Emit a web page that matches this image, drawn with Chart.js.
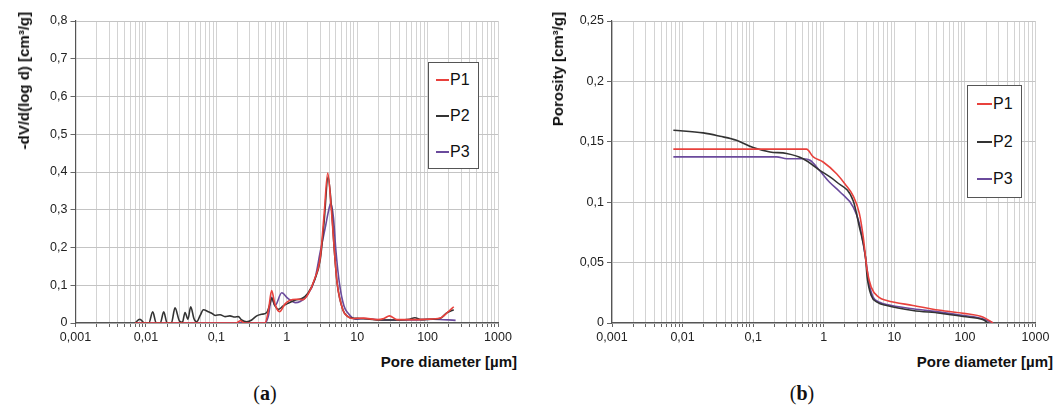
<!DOCTYPE html>
<html>
<head>
<meta charset="utf-8">
<script src="https://cdn.jsdelivr.net/npm/chart.js@4.4.1/dist/chart.umd.min.js"></script>
<style>
  body { margin: 0; background: #fff; width: 1057px; height: 405px; overflow: hidden; position: relative;
         font-family: "Liberation Sans", Arial, sans-serif; color: #111; }
  canvas { position: absolute; top: 0; }
  #chartA { left: 0; }
  #chartB { left: 527px; }
  .ytitle { position: absolute; top: 12px; writing-mode: vertical-rl; transform: rotate(180deg);
            font-weight: bold; font-size: 15px; line-height: 17px; white-space: nowrap; }
  .xtitle { position: absolute; top: 353px; font-weight: bold; font-size: 15px; line-height: 17px; white-space: nowrap; }
  .caption { position: absolute; top: 381px; width: 60px; text-align: center; font-family: "Liberation Serif", "DejaVu Serif", serif;
             font-size: 20px; line-height: 24px; }
  .legend { position: absolute; border: 1px solid #555; background: #fff; box-sizing: border-box; }
  .legend .row { position: absolute; height: 20px; line-height: 20px; font-size: 16px; white-space: nowrap; }
  .legend .swatch { display: inline-block; height: 2px; vertical-align: middle; margin-right: 1px; position: relative; top: -1px; }
</style>
</head>
<body>
<canvas id="chartA" width="527" height="345"></canvas>
<canvas id="chartB" width="530" height="345"></canvas>

<div class="ytitle" style="left:15px">-dV/d(log d) [cm³/g]</div>
<div class="ytitle" style="left:549px">Porosity [cm³/g]</div>
<div class="xtitle" style="right:540px">Pore diameter [µm]</div>
<div class="xtitle" style="right:4px">Pore diameter [µm]</div>
<div class="caption" style="left:235px">(<b>a</b>)</div>
<div class="caption" style="left:772px">(<b>b</b>)</div>

<div class="legend" id="legendA" style="left:428px; top:62px; width:51px; height:107px"></div>
<div class="legend" id="legendB" style="left:967px; top:85px; width:55px; height:113px"></div>

<script>
// series names and colours
var seriesNames = ['P1', 'P2', 'P3'];
var seriesColors = ['#e8413c', '#333333', '#6a4a9c'];

// x axis: pore diameter, log scale 0.001 .. 1000
var xTickLabels = ['0,001', '0,01', '0,1', '1', '10', '100', '1000'];

// (a) -dV/d(log d)
var yTicksA = [0, 0.1, 0.2, 0.3, 0.4, 0.5, 0.6, 0.7, 0.8];
var yLabelsA = ['0', '0,1', '0,2', '0,3', '0,4', '0,5', '0,6', '0,7', '0,8'];

var distP1_d = [0.0070, 0.19, 0.22, 0.25, 0.49, 0.55, 0.61, 0.68, 0.79, 0.94, 1.1, 1.38, 1.7, 2.0, 2.5, 3.0, 3.4, 3.82, 4.3, 4.75, 5.2, 6.3, 7.4, 8.4, 12.3, 19.2, 24, 28.7, 36.6, 63, 98, 150, 197, 235];
var distP1_v = [0, 0, 0.006, 0, 0, 0.034, 0.086, 0.05, 0.03, 0.05, 0.06, 0.063, 0.062, 0.076, 0.118, 0.175, 0.29, 0.397, 0.3, 0.19, 0.105, 0.034, 0.017, 0.012, 0.013, 0.009, 0.012, 0.019, 0.009, 0.009, 0.01, 0.013, 0.03, 0.043];

var distP2_d = [0.0070, 0.0082, 0.0095, 0.0110, 0.0125, 0.0140, 0.0160, 0.0179, 0.0200, 0.0230, 0.0259, 0.0300, 0.0330, 0.0359, 0.0395, 0.0433, 0.0480, 0.0525, 0.0590, 0.0654, 0.0770, 0.0860, 0.0960, 0.113, 0.133, 0.156, 0.183, 0.205, 0.229, 0.270, 0.318, 0.375, 0.44, 0.52, 0.58, 0.61, 0.68, 0.76, 0.89, 1.04, 1.33, 1.64, 2.0, 2.5, 3.0, 3.4, 3.86, 4.3, 4.75, 5.2, 6.3, 7.4, 8.4, 11, 15, 19, 28, 40, 55, 66, 82, 110, 150, 185, 235];
var distP2_v = [0, 0.010, 0, 0, 0.030, 0, 0, 0.030, 0, 0, 0.040, 0.005, 0.002, 0.028, 0.010, 0.043, 0.012, 0.003, 0.020, 0.035, 0.030, 0.026, 0.020, 0.022, 0.017, 0.019, 0.016, 0.017, 0.008, 0.003, 0.008, 0.019, 0.023, 0.028, 0.052, 0.066, 0.046, 0.036, 0.045, 0.052, 0.061, 0.065, 0.079, 0.115, 0.17, 0.27, 0.387, 0.31, 0.19, 0.105, 0.034, 0.017, 0.013, 0.012, 0.01, 0.008, 0.008, 0.008, 0.01, 0.014, 0.009, 0.01, 0.012, 0.026, 0.035];

var distP3_d = [0.0070, 0.49, 0.55, 0.61, 0.68, 0.85, 1.04, 1.33, 1.55, 1.9, 2.5, 3.0, 3.5, 3.9, 4.22, 4.6, 5.0, 5.6, 6.5, 7.5, 9.4, 12.3, 23, 56, 120, 250];
var distP3_v = [0, 0, 0.02, 0.068, 0.046, 0.08, 0.065, 0.054, 0.057, 0.07, 0.115, 0.19, 0.25, 0.295, 0.317, 0.28, 0.19, 0.105, 0.045, 0.025, 0.01, 0.012, 0.008, 0.008, 0.01, 0.007];

// (b) cumulative porosity
var yTicksB = [0, 0.05, 0.1, 0.15, 0.2, 0.25];
var yLabelsB = ['0', '0,05', '0,1', '0,15', '0,2', '0,25'];

var poroP1_d = [0.0074, 0.57, 0.71, 0.98, 1.52, 2.0, 2.62, 3.2, 3.63, 4.12, 4.7, 6.0, 7.8, 18.3, 44.6, 95, 182, 250];
var poroP1_v = [0.1439, 0.1439, 0.1375, 0.1333, 0.1235, 0.115, 0.105, 0.0905, 0.071, 0.0435, 0.0297, 0.0214, 0.0187, 0.0145, 0.0105, 0.008, 0.0048, 0];

var poroP2_d = [0.0074, 0.0196, 0.0339, 0.058, 0.1, 0.173, 0.298, 0.51, 0.88, 1.52, 2.62, 3.2, 3.9, 4.12, 4.7, 5.7, 7.8, 18.3, 44.6, 95, 182, 214];
var poroP2_v = [0.1596, 0.1574, 0.1546, 0.1513, 0.1452, 0.1416, 0.1403, 0.136, 0.1264, 0.1167, 0.101, 0.0794, 0.0545, 0.038, 0.0228, 0.0172, 0.0145, 0.0104, 0.0081, 0.0054, 0.0026, 0];

var poroP3_d = [0.0074, 0.215, 0.3, 0.51, 0.64, 0.88, 1.2, 1.7, 2.62, 3.2, 3.9, 4.4, 5.0, 6.3, 7.8, 18.3, 44.6, 95, 182, 250];
var poroP3_v = [0.1375, 0.1375, 0.136, 0.136, 0.1347, 0.126, 0.1167, 0.1085, 0.096, 0.0822, 0.0545, 0.0325, 0.0214, 0.017, 0.0153, 0.0118, 0.009, 0.0062, 0.0034, 0];

// every 1..9 x 10^n between 0.001 and 1000 gets a gridline
var xGrid = [];
for (var e = -3; e < 3; e++) {
  for (var k = 1; k < 10; k++) xGrid.push(Number((k * Math.pow(10, e)).toPrecision(6)));
}
xGrid.push(1000);

function toPoints(d, v) {
  return d.map(function (x, i) { return { x: x, y: v[i] }; });
}

function makeDatasets(list) {
  return list.map(function (s, i) {
    return {
      label: seriesNames[i],
      data: toPoints(s[0], s[1]),
      borderColor: seriesColors[i],
      borderWidth: 1.6,
      pointRadius: 0,
      cubicInterpolationMode: 'monotone',
      fill: false
    };
  });
}

var tickFont = { family: '"Liberation Sans", Arial, sans-serif', size: 12.5 };

function makeOptions(yMax, yTicks, yLabels, yWidth, padRight) {
  return {
    responsive: false,
    animation: false,
    layout: { padding: { left: 0, right: padRight, top: 21, bottom: 0 } },
    plugins: { legend: { display: false }, tooltip: { enabled: false } },
    scales: {
      x: {
        type: 'logarithmic',
        min: 0.001,
        max: 1000,
        afterBuildTicks: function (scale) {
          scale.ticks = xGrid.map(function (v) { return { value: v }; });
        },
        afterFit: function (scale) { scale.height = 22; },
        grid: { color: '#d3d3d3', lineWidth: 1, tickLength: 4, tickColor: '#666' },
        border: { color: '#555', width: 1.2 },
        ticks: {
          autoSkip: false, maxRotation: 0, minRotation: 0, padding: 3,
          color: '#222', font: tickFont,
          callback: function (value) {
            var ex = Math.log10(value);
            var r = Math.round(ex);
            return Math.abs(ex - r) < 1e-6 ? xTickLabels[r + 3] : '';
          }
        }
      },
      y: {
        min: 0,
        max: yMax,
        afterBuildTicks: function (scale) {
          scale.ticks = yTicks.map(function (v) { return { value: v }; });
        },
        afterFit: function (scale) { scale.width = yWidth; },
        grid: { color: '#c4c4c4', lineWidth: 1, tickLength: 5, tickColor: '#666' },
        border: { color: '#555', width: 1.2 },
        ticks: {
          padding: 3, color: '#222', font: tickFont,
          callback: function (value, index) { return yLabels[index]; }
        }
      }
    }
  };
}

new Chart(document.getElementById('chartA'), {
  type: 'line',
  data: { datasets: makeDatasets([[distP1_d, distP1_v], [distP2_d, distP2_v], [distP3_d, distP3_v]]) },
  options: makeOptions(0.8, yTicksA, yLabelsA, 75.5, 29)
});

new Chart(document.getElementById('chartB'), {
  type: 'line',
  data: { datasets: makeDatasets([[poroP1_d, poroP1_v], [poroP2_d, poroP2_v], [poroP3_d, poroP3_v]]) },
  options: makeOptions(0.25, yTicksB, yLabelsB, 85, 21.5)
});

// legends in boxes, built from the series names
function buildLegend(id, rowTops, lineLen, padLeft) {
  var box = document.getElementById(id);
  seriesNames.forEach(function (name, i) {
    var row = document.createElement('div');
    row.className = 'row';
    row.style.top = rowTops[i] + 'px';
    row.style.left = padLeft + 'px';
    var sw = document.createElement('span');
    sw.className = 'swatch';
    sw.style.width = lineLen + 'px';
    sw.style.background = seriesColors[i];
    row.appendChild(sw);
    row.appendChild(document.createTextNode(name));
    box.appendChild(row);
  });
}
buildLegend('legendA', [7, 43, 79], 13, 7);
buildLegend('legendB', [8, 46, 83], 15, 9);
</script>
</body>
</html>
